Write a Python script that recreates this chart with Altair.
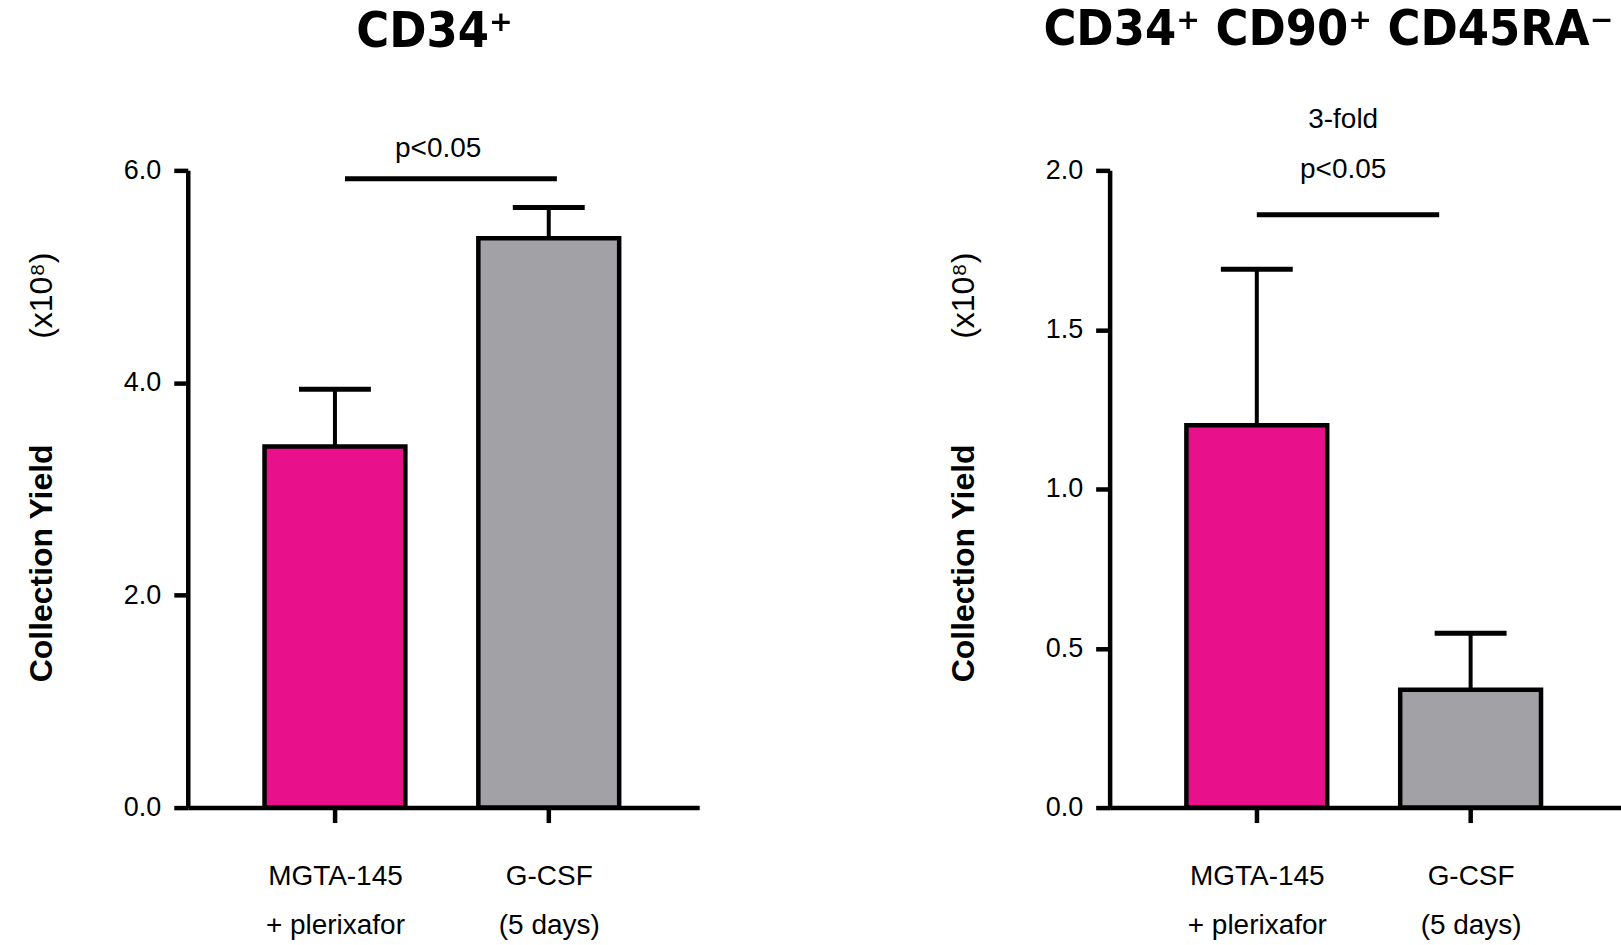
import json
import altair as alt
import pandas as pd

# ---------------- data ----------------
groups = ["MGTA-145 + plerixafor", "G-CSF (5 days)"]
label_line1 = ["MGTA-145", "G-CSF"]
label_line2 = ["+ plerixafor", "(5 days)"]
group_pos = [1, 2]
bar_colors = ["#E8118B", "#A2A1A6"]

cd34_mean = [3.40, 5.36]
cd34_upper = [3.94, 5.65]

sub_mean = [1.20, 0.37]
sub_upper = [1.69, 0.547]

# significance bars: start, end, height
cd34_sig = [1.047, 2.038, 5.92]
sub_sig = [1.0, 1.853, 1.861]

# annotations: text, x, y
cd34_notes_text = ["p<0.05"]
cd34_notes_x = [1.483]
cd34_notes_y = [6.13]
sub_notes_text = ["3-fold", "p<0.05"]
sub_notes_x = [1.404, 1.404]
sub_notes_y = [2.133, 1.977]

FONT = "Liberation Sans, Arial, Helvetica, sans-serif"
TITLE_FONT = "Liberation Sans Narrow, Arial Narrow, DejaVu Sans Condensed, Roboto Condensed, sans-serif"

label_expr = (
    f"datum.value == {group_pos[0]} ? {json.dumps([label_line1[0], label_line2[0]])} : "
    f"{json.dumps([label_line1[1], label_line2[1]])}"
)


def panel(title, means, uppers, y_max, y_ticks, sig, n_text, n_x, n_y, title_dx, title_offset):
    df = pd.DataFrame({"group": groups, "pos": group_pos, "mean": means, "upper": uppers})
    sig_df = pd.DataFrame({"x1": [sig[0]], "x2": [sig[1]], "y": [sig[2]]})
    note_df = pd.DataFrame({"text": n_text, "pos": n_x, "y": n_y})

    xscale = alt.Scale(domain=[0.335, 2.68], nice=False, zero=False)
    yscale = alt.Scale(domain=[0, y_max], nice=False, zero=True)
    xaxis = alt.Axis(values=group_pos, labelExpr=label_expr, title=None, grid=False,
                     tickSize=15, labelPadding=40, labelFontSize=28, labelLineHeight=49,
                     labelAngle=0)
    y_main = alt.Axis(orient="left", values=y_ticks, format=".1f", title="Collection Yield",
                      grid=False, titleFontWeight="bold", titleFontSize=32, titleFont=FONT,
                      titleX=-161, titleY=393, titleAlign="center", titleBaseline="top",
                      titleAngle=-90, labelPadding=13)
    y_unit = alt.Axis(orient="left", title="(x10⁸)", labels=False, ticks=False, domain=False,
                      grid=False, titleFontWeight="normal", titleFontSize=32, titleFont=FONT,
                      titleX=-161, titleY=125, titleAlign="center", titleBaseline="top",
                      titleAngle=-90)

    base = alt.Chart(df)
    bars = base.mark_bar(size=141, stroke="black", strokeWidth=4.5).encode(
        x=alt.X("pos:Q", scale=xscale, axis=xaxis),
        y=alt.Y("mean:Q", scale=yscale, axis=y_main),
        color=alt.Color("group:N", scale=alt.Scale(domain=groups, range=bar_colors), legend=None),
    )
    err = base.mark_rule(color="black", strokeWidth=4).encode(
        x=alt.X("pos:Q", scale=xscale, axis=xaxis),
        y=alt.Y("mean:Q", scale=yscale, axis=y_unit),
        y2="upper:Q",
    )
    cap = base.mark_tick(color="black", orient="horizontal", size=72, thickness=5, opacity=1).encode(
        x=alt.X("pos:Q", scale=xscale, axis=xaxis),
        y=alt.Y("upper:Q", scale=yscale, axis=None),
    )
    sig_rule = alt.Chart(sig_df).mark_rule(color="black", strokeWidth=5).encode(
        x=alt.X("x1:Q", scale=xscale, axis=xaxis),
        x2="x2:Q",
        y=alt.Y("y:Q", scale=yscale, axis=None),
    )
    notes = alt.Chart(note_df).mark_text(font=FONT, fontSize=28, color="black",
                                         baseline="alphabetic", align="center").encode(
        x=alt.X("pos:Q", scale=xscale, axis=xaxis),
        y=alt.Y("y:Q", scale=yscale, axis=None),
        text="text:N",
    )
    return alt.layer(bars, err, cap, sig_rule, notes).resolve_axis(y="independent").properties(
        width=512,
        height=638,
        title=alt.TitleParams(title, font=TITLE_FONT, fontSize=50, fontWeight="bold",
                              color="black", anchor="middle", frame="group", dx=title_dx,
                              offset=title_offset),
    )


left = panel("CD34⁺", cd34_mean, cd34_upper, 6, [0, 2, 4, 6], cd34_sig,
             cd34_notes_text, cd34_notes_x, cd34_notes_y, -9, 78)
right = panel("CD34⁺ CD90⁺ CD45RA⁻", sub_mean, sub_upper, 2, [0, 0.5, 1, 1.5, 2], sub_sig,
              sub_notes_text, sub_notes_x, sub_notes_y, -37, 51)

chart = alt.hconcat(left, right, spacing=249).properties(
    padding={"left": 26, "top": 4, "right": 0, "bottom": 0},
    background="white",
).configure_view(stroke=None).configure_axis(
    domainColor="black", domainWidth=4.5, tickColor="black", tickWidth=4.5, tickSize=14,
    labelFont=FONT, labelFontSize=27, labelColor="black", titleColor="black",
).configure_concat(spacing=249)

chart.save("out.html", embed_options={"renderer": "svg", "actions": False})
